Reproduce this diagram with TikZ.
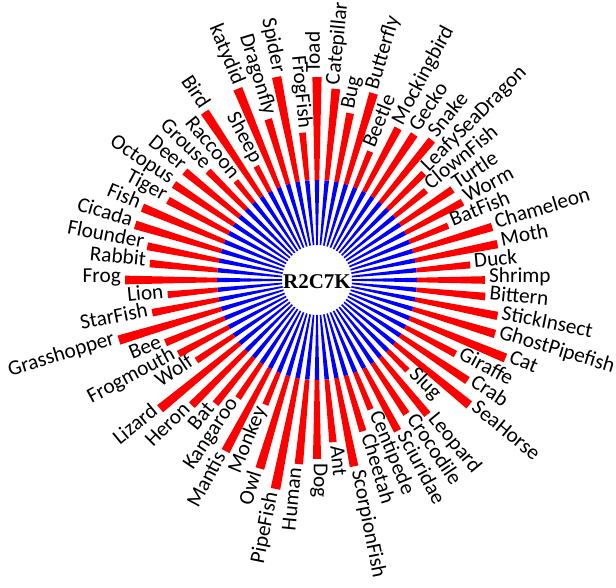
\documentclass[tikz,border=0pt]{standalone}
\usepackage{fontspec}
\setmainfont{Carlito}
\newfontfamily\centerfont{Liberation Serif}
\begin{document}
\begin{tikzpicture}[
  lab/.style={font=\fontsize{21.3}{24}\selectfont, inner sep=0pt, text height=0.6em, text depth=0pt},
  barin/.style={fill=blue},
  barout/.style={fill=red}]
\useasboundingbox (-317pt,-308pt) rectangle (299pt,280pt);
\def\hw{1.3}
\foreach \nm/\len [count=\i from 0] in {Toad/203, Catepillar/192, Bug/170, Butterfly/195, Beetle/139, Mockingbird/172, Gecko/175, Snake/181, LeafySeaDragon/151, ClownFish/141, Turtle/163, Worm/165, BatFish/142, Chameleon/183, Moth/184, Duck/154, Shrimp/168, Bittern/169, StickInsect/184, GhostPipefish/186, Cat/204, Giraffe/157, Crab/181, SeaHorse/197, Slug/128, Leopard/174, Crocodile/161, Sciuridae/171, Centipede/140, Cheetah/158, ScorpionFish/190, Ant/163, Dog/179, Human/185, PipeFish/213, Owl/197, Monkey/135, Mantis/194, Kangaroo/142, Bat/160, Heron/177, Lizard/203, Wolf/145, Frogmouth/157, Bee/164, Grasshopper/207, StarFish/168, Lion/150, Frog/192, Rabbit/168, Flounder/173, Cicada/190, Fish/189, Tiger/169, Octopus/172, Deer/171, Grouse/154, Raccoon/128, Bird/202, Sheep/129, katydid/207, Dragonfly/168, Spider/207, FrogFish/148}{
  \pgfmathsetmacro\a{90-\i*5.625}
  \pgfmathsetmacro\al{\a-\hw}
  \pgfmathsetmacro\ar{\a+\hw}
  \pgfmathsetmacro\rl{\len+4}
  \fill[barin] (\al:35pt) arc[start angle=\al, end angle=\ar, radius=35pt] -- (\ar:100pt) arc[start angle=\ar, end angle=\al, radius=100pt] -- cycle;
  \fill[barout] (\al:100pt) arc[start angle=\al, end angle=\ar, radius=100pt] -- (\ar:\len pt) arc[start angle=\ar, end angle=\al, radius=\len pt] -- cycle;
  \ifnum\i<33
    \node[lab, anchor=west, rotate=\a] (n\i) at (\a:\rl pt) {\nm};
  \else
    \node[lab, anchor=east, rotate=\a+180] (n\i) at (\a:\rl pt) {\nm};
  \fi
}
\node[font=\centerfont\bfseries\fontsize{21}{23}\selectfont, inner sep=0pt] (title) at (0pt,-2pt) {R2C7K};
\end{tikzpicture}
\end{document}
